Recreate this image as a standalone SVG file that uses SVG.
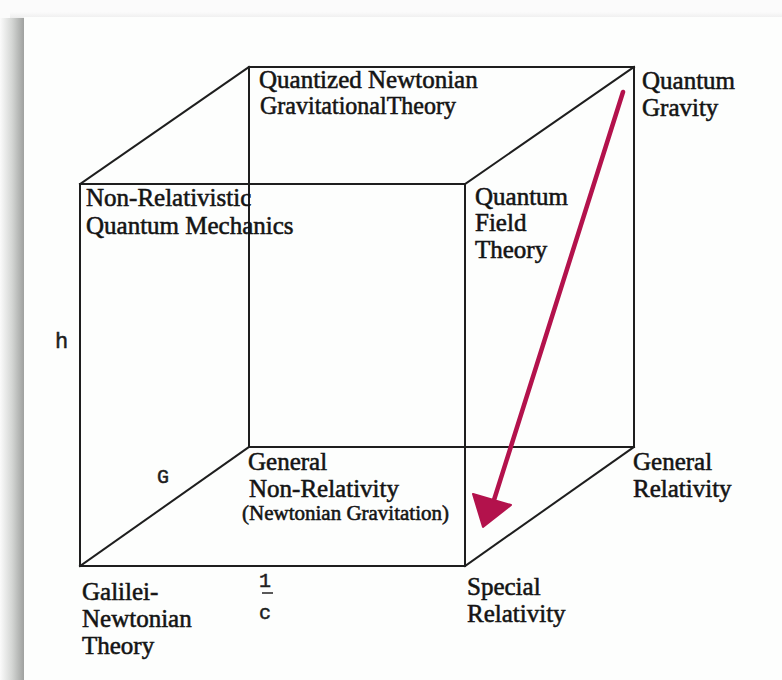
<svg xmlns="http://www.w3.org/2000/svg" width="782" height="680" viewBox="0 0 782 680">
  <style>
    .lbl { font-family: "Liberation Serif", "Times New Roman", serif; font-size: 25px; fill: #141414; stroke: #141414; stroke-width: 0.55; }
    .small { font-size: 21px; }
    .axis { font-family: "Liberation Mono", "Courier New", monospace; fill: #1e1e1e; stroke: #1e1e1e; stroke-width: 0.5; }
    .edge { stroke: #1e1e1e; stroke-width: 2; fill: none; stroke-linecap: square; }
    .red { stroke: #b3124c; stroke-width: 4.5; fill: none; stroke-linecap: round; }
  </style>
  <defs>
    <linearGradient id="shadow" x1="0" y1="0" x2="1" y2="0">
      <stop offset="0" stop-color="#fbfbfb"/>
      <stop offset="0.5" stop-color="#d4d6d4"/>
      <stop offset="1" stop-color="#9fa19f"/>
    </linearGradient>
    <linearGradient id="topshadow" x1="0" y1="0" x2="0" y2="1">
      <stop offset="0" stop-color="#fbfbfb"/>
      <stop offset="1" stop-color="#eeeeee"/>
    </linearGradient>
  </defs>

  <!-- background and card -->
  <rect x="0" y="0" width="782" height="680" fill="#fbfbfb"/>
  <rect x="10" y="12" width="772" height="6" fill="url(#topshadow)"/>
  <rect x="0" y="18" width="24" height="662" fill="url(#shadow)"/>
  <rect x="24" y="17" width="758" height="663" fill="#fdfefd"/>

  <!-- connectors: cube edges and arrow -->
  <g id="connectors">
    <rect class="edge" x="249" y="67" width="385" height="380"/>
    <rect class="edge" x="80" y="184" width="385" height="382"/>
    <line class="edge" x1="80" y1="184" x2="249" y2="67"/>
    <line class="edge" x1="465" y1="184" x2="634" y2="67"/>
    <line class="edge" x1="465" y1="566" x2="634" y2="447"/>
    <line class="edge" x1="80" y1="566" x2="249" y2="447"/>
    <g id="arrow">
      <line class="red" x1="623" y1="92" x2="494" y2="500"/>
      <polygon points="473,494 511,505 483,527" fill="#b3124c" stroke="#b3124c" stroke-width="2" stroke-linejoin="round"/>
    </g>
  </g>

  <g id="quantized-newtonian">
    <text class="lbl" x="259" y="88">Quantized Newtonian</text>
    <text class="lbl" x="260" y="114" textLength="196" lengthAdjust="spacingAndGlyphs">GravitationalTheory</text>
  </g>
  <g id="quantum-gravity">
    <text class="lbl" x="642" y="89">Quantum</text>
    <text class="lbl" x="642" y="116">Gravity</text>
  </g>
  <g id="nonrel-qm">
    <text class="lbl" x="86" y="206">Non-Relativistic</text>
    <text class="lbl" x="86" y="234">Quantum Mechanics</text>
  </g>
  <g id="qft">
    <text class="lbl" x="475" y="205">Quantum</text>
    <text class="lbl" x="475" y="231">Field</text>
    <text class="lbl" x="475" y="258">Theory</text>
  </g>
  <g id="general-nonrel">
    <text class="lbl" x="248" y="470">General</text>
    <text class="lbl" x="249" y="497">Non-Relativity</text>
    <text class="lbl small" x="242" y="520">(Newtonian Gravitation)</text>
  </g>
  <g id="general-relativity">
    <text class="lbl" x="633" y="470">General</text>
    <text class="lbl" x="633" y="497">Relativity</text>
  </g>
  <g id="galilei-newtonian">
    <text class="lbl" x="82" y="600">Galilei-</text>
    <text class="lbl" x="82" y="627">Newtonian</text>
    <text class="lbl" x="82" y="654">Theory</text>
  </g>
  <g id="special-relativity">
    <text class="lbl" x="467" y="595">Special</text>
    <text class="lbl" x="467" y="622">Relativity</text>
  </g>

  <g id="axis-labels">
    <text class="axis" x="55" y="348" font-size="22">h</text>
    <text class="axis" x="157" y="483" font-size="20" font-family="Liberation Sans, Arial, sans-serif">G</text>
    <text class="axis" x="259" y="587" font-size="20">1</text>
    <line x1="262" y1="593" x2="273" y2="593" stroke="#222" stroke-width="1.5"/>
    <text class="axis" x="259" y="619" font-size="20">c</text>
  </g>
</svg>
